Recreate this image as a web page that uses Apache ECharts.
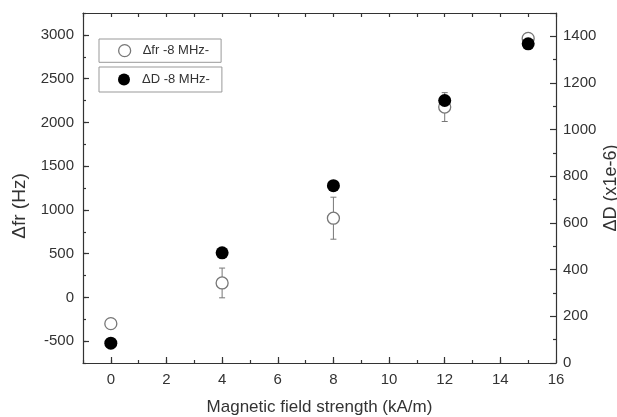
<!DOCTYPE html>
<html>
<head>
<meta charset="utf-8">
<script src="https://cdn.jsdelivr.net/npm/echarts@6/dist/echarts.min.js"></script>
<style>
  html, body { margin: 0; padding: 0; background: #fff; }
  #chart { width: 617px; height: 417px; }
</style>
</head>
<body>
<div id="chart"></div>
<script>
// field strength (kA/m)
const fieldX = [0, 4, 8, 12, 15];
// delta fr (Hz), left axis, with error bar half-widths
const dfrValues = [-300, 165, 905, 2175, 2960];
const dfrErrors = [30, 170, 240, 165, 30];
// delta D (x1e-6), right axis
const dDValues = [85, 472, 760, 1125, 1368];

const font = 'Arial, "Liberation Sans", sans-serif';
const axisColor = '#333';
const greyMark = '#777';

let chartInstance = echarts.init(document.getElementById('chart'));

// error bars drawn through the axis scale
const errData = fieldX.map((x, i) => [x, dfrValues[i] - dfrErrors[i], dfrValues[i] + dfrErrors[i]]);
const renderErr = function (params, api) {
    const x = api.value(0);
    const lo = api.coord([x, api.value(1)]);
    const hi = api.coord([x, api.value(2)]);
    const cap = 3;
    const style = { stroke: greyMark, lineWidth: 1 };
    return {
        type: 'group',
        children: [
            { type: 'line', shape: { x1: lo[0], y1: lo[1], x2: hi[0], y2: hi[1] }, style: style },
            { type: 'line', shape: { x1: lo[0] - cap, y1: lo[1], x2: lo[0] + cap, y2: lo[1] }, style: style },
            { type: 'line', shape: { x1: hi[0] - cap, y1: hi[1], x2: hi[0] + cap, y2: hi[1] }, style: style }
        ]
    };
};

const lineStyle = { color: axisColor, width: 1.2 };

let option = {
    backgroundColor: '#fff',
    animation: false,
    textStyle: { fontFamily: font },
    grid: { left: 83, right: 61, top: 13, bottom: 54, containLabel: false, outerBoundsMode: 'none' },
    legend: [
        {
            left: 99, top: 39,
            orient: 'vertical',
            padding: [5, 12, 5, 19],
            borderColor: '#999', borderWidth: 1,
            itemWidth: 26, itemHeight: 12,
            textStyle: { fontSize: 13, color: axisColor, fontFamily: font },
            data: [{ name: '\u0394fr -8 MHz-', icon: 'circle', itemStyle: { color: '#fff', borderColor: greyMark, borderWidth: 1.3 } }]
        },
        {
            left: 99, top: 67,
            orient: 'vertical',
            padding: [6, 12, 6, 19],
            borderColor: '#999', borderWidth: 1,
            itemWidth: 26, itemHeight: 12,
            textStyle: { fontSize: 13, color: axisColor, fontFamily: font },
            data: [{ name: '\u0394D -8 MHz-', icon: 'circle', itemStyle: { color: '#000' } }]
        }
    ],
    xAxis: [
        {
            type: 'value', position: 'bottom',
            min: -1, max: 16, interval: 1,
            name: 'Magnetic field strength (kA/m)',
            nameLocation: 'middle', nameGap: 36,
            nameTextStyle: { fontSize: 17, color: axisColor, fontFamily: font },
            axisLine: { onZero: false, lineStyle: lineStyle },
            axisTick: { inside: true, length: 3, lineStyle: lineStyle },
            axisLabel: {
                fontSize: 15, color: axisColor, margin: 9, fontFamily: font,
                formatter: v => (v % 2 === 0 && v >= 0 ? String(v) : '')
            },
            splitLine: { show: false }
        },
        {
            // longer ticks at the labelled values
            type: 'value', position: 'bottom',
            min: -1, max: 16, interval: 2,
            axisLine: { show: false, onZero: false },
            axisTick: { show: false, inside: true },
            minorTick: { show: true, splitNumber: 2, length: 6, lineStyle: lineStyle },
            axisLabel: { show: false },
            splitLine: { show: false }
        },
        {
            type: 'value', position: 'top',
            min: -1, max: 16, interval: 1,
            axisLine: { onZero: false, lineStyle: lineStyle },
            axisTick: { inside: true, length: 4, lineStyle: lineStyle },
            axisLabel: { show: false },
            splitLine: { show: false }
        }
    ],
    yAxis: [
        {
            type: 'value', position: 'left',
            min: -750, max: 3250, interval: 250,
            name: '\u0394fr (Hz)',
            nameLocation: 'middle', nameGap: 53, nameRotate: 90,
            nameTextStyle: { fontSize: 19, color: axisColor, fontFamily: font, padding: [0, 36, 0, 0] },
            axisLine: { show: true, onZero: false, lineStyle: lineStyle },
            axisTick: { show: true, inside: true, length: 3, lineStyle: lineStyle },
            axisLabel: {
                fontSize: 15, color: axisColor, margin: 9, fontFamily: font,
                formatter: v => (v % 500 === 0 ? String(v) : '')
            },
            splitLine: { show: false }
        },
        {
            type: 'value', position: 'right',
            min: 0, max: 1500, interval: 200,
            name: '\u0394D (x1e-6)',
            nameLocation: 'middle', nameGap: 46, nameRotate: 90,
            nameMoveOverlap: false,
            nameTextStyle: { fontSize: 18, color: axisColor, fontFamily: font },
            axisLine: { show: true, onZero: false, lineStyle: lineStyle },
            axisTick: { show: true, inside: true, length: 6, lineStyle: lineStyle },
            minorTick: { show: true, splitNumber: 2, length: 3, lineStyle: lineStyle },
            axisLabel: {
                fontSize: 15, color: axisColor, margin: 7, fontFamily: font,
                formatter: v => (v % 200 === 0 ? String(v) : '')
            },
            splitLine: { show: false }
        },
        {
            // longer ticks at the labelled values of the left axis
            type: 'value', position: 'left',
            min: -750, max: 3250, interval: 500,
            axisLine: { show: false, onZero: false },
            axisTick: { show: false, inside: true },
            minorTick: { show: true, splitNumber: 2, length: 6, lineStyle: lineStyle },
            axisLabel: { show: false },
            splitLine: { show: false }
        }
    ],
    series: [
        {
            type: 'custom',
            xAxisIndex: 0, yAxisIndex: 0,
            renderItem: renderErr,
            data: errData,
            z: 1,
            silent: true
        },
        {
            name: '\u0394fr -8 MHz-',
            type: 'scatter',
            xAxisIndex: 0, yAxisIndex: 0,
            symbol: 'circle', symbolSize: 12,
            itemStyle: { color: '#fff', borderColor: greyMark, borderWidth: 1.3, opacity: 1 },
            data: fieldX.map((x, i) => [x, dfrValues[i]]),
            z: 2
        },
        {
            name: '\u0394D -8 MHz-',
            type: 'scatter',
            xAxisIndex: 0, yAxisIndex: 1,
            symbol: 'circle', symbolSize: 13,
            itemStyle: { color: '#000', opacity: 1 },
            data: fieldX.map((x, i) => [x, dDValues[i]]),
            z: 3
        }
    ]
};
chartInstance.setOption(option);
</script>
</body>
</html>
